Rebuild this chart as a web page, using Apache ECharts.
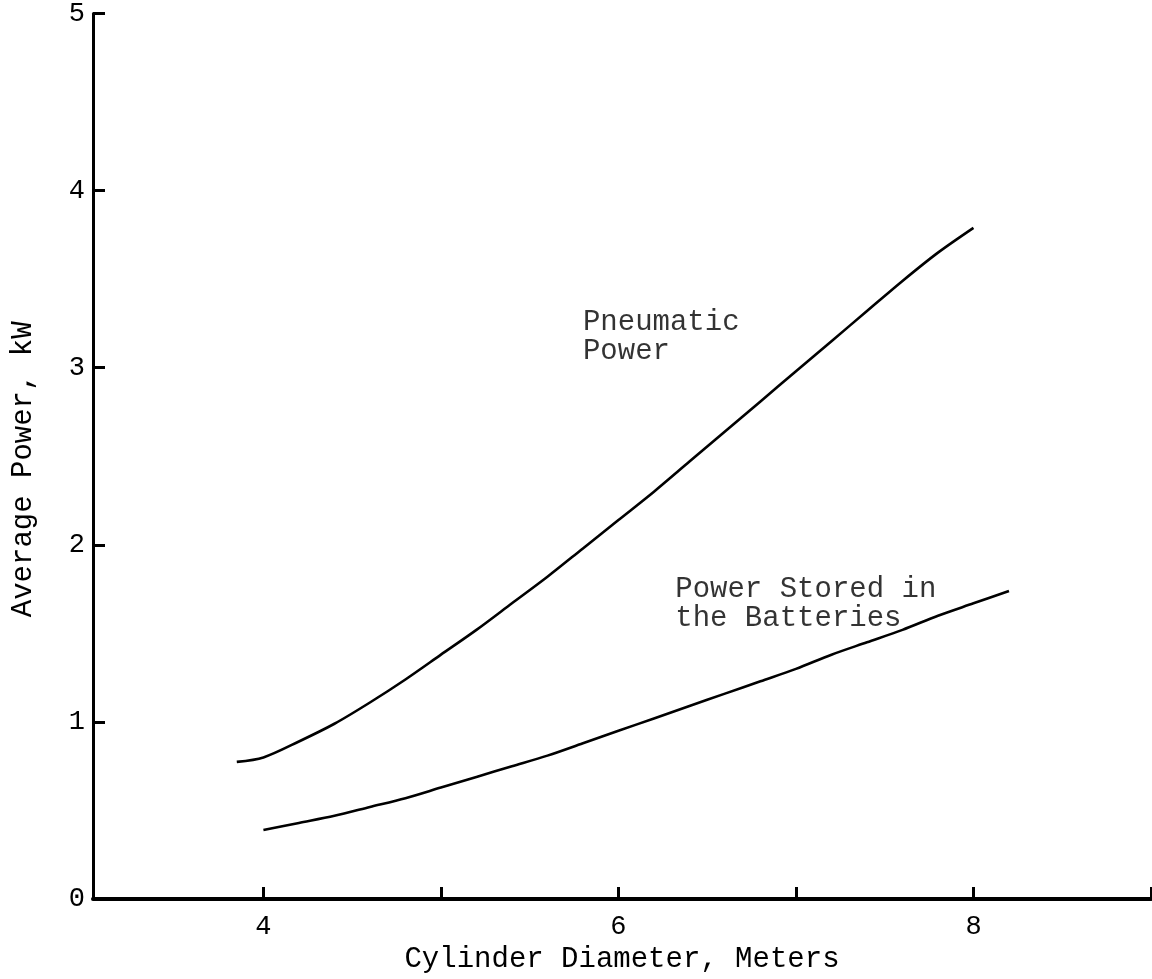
<!DOCTYPE html>
<html>
<head>
<meta charset="utf-8">
<script src="https://cdn.jsdelivr.net/npm/echarts@6/dist/echarts.min.js"></script>
<style>
html,body{margin:0;padding:0;background:#fff;}
#chart{width:1152px;height:979px;}
</style>
</head>
<body>
<div id="chart"></div>
<script>
// ---- data ----
const xTickValues = [4, 5, 6, 7, 8, 9];
const xLabelValues = [4, 6, 8];
const yTickValues = [0, 1, 2, 3, 4, 5];
const pneumaticX = [3.85, 4.0, 4.2, 4.4, 4.6, 4.8, 5.0, 5.2, 5.4, 5.6, 5.8, 6.0, 6.2, 6.4, 6.6, 6.8, 7.0, 7.2, 7.4, 7.6, 7.8, 8.0];
const pneumaticY = [0.775, 0.80, 0.89, 0.99, 1.11, 1.24, 1.38, 1.52, 1.67, 1.82, 1.98, 2.14, 2.30, 2.47, 2.64, 2.81, 2.98, 3.15, 3.32, 3.49, 3.65, 3.79];
const batteryX = [4.0, 4.2, 4.4, 4.6, 4.8, 5.0, 5.2, 5.4, 5.6, 5.8, 6.0, 6.2, 6.4, 6.6, 6.8, 7.0, 7.2, 7.4, 7.6, 7.8, 8.0, 8.2];
const batteryY = [0.39, 0.43, 0.47, 0.52, 0.57, 0.63, 0.69, 0.75, 0.81, 0.88, 0.95, 1.02, 1.09, 1.16, 1.23, 1.30, 1.38, 1.45, 1.52, 1.60, 1.67, 1.74];
const annotations = [
  { x: 5.80, y: 3.34, text: 'Pneumatic\nPower' },
  { x: 6.32, y: 1.83, text: 'Power Stored in\nthe Batteries' }
];

const FONT = '"Liberation Mono", "DejaVu Sans Mono", monospace';
const zip = (xs, ys) => xs.map((x, i) => [x, ys[i]]);

const chart = echarts.init(document.getElementById('chart'));
chart.setOption({
  backgroundColor: '#fff',
  animation: false,
  grid: { left: 93, right: 1, top: 12, bottom: 76 },
  xAxis: {
    type: 'value', min: 3.04, max: 9,
    name: 'Cylinder Diameter, Meters',
    nameLocation: 'middle', nameGap: 45,
    nameTextStyle: { fontFamily: FONT, fontSize: 29, color: '#000' },
    axisLine: { lineStyle: { color: '#000', width: 4 } },
    axisTick: { inside: true, length: 12, customValues: xTickValues, lineStyle: { color: '#000', width: 3 } },
    axisLabel: {
      margin: 14, fontFamily: FONT, fontSize: 27, color: '#000',
      customValues: xLabelValues
    },
    splitLine: { show: false }
  },
  yAxis: {
    type: 'value', min: 0, max: 5, interval: 1,
    name: 'Average Power, kW',
    nameLocation: 'middle', nameGap: 55, nameRotate: 90,
    nameTextStyle: { fontFamily: FONT, fontSize: 29, color: '#000', padding: [0, 26, 0, 0] },
    axisLine: { lineStyle: { color: '#000', width: 3 } },
    axisTick: { inside: true, length: 12, customValues: yTickValues, lineStyle: { color: '#000', width: 3 } },
    axisLabel: { margin: 8, fontFamily: FONT, fontSize: 27, color: '#000' },
    splitLine: { show: false }
  },
  series: [
    {
      name: 'Pneumatic Power', type: 'line', smooth: 0.3, showSymbol: false,
      data: zip(pneumaticX, pneumaticY),
      lineStyle: { color: '#000', width: 2.6 }
    },
    {
      name: 'Power Stored in the Batteries', type: 'line', smooth: 0.3, showSymbol: false,
      data: zip(batteryX, batteryY),
      lineStyle: { color: '#000', width: 2.6 }
    },
    {
      name: 'annotations', type: 'scatter', symbolSize: 0, silent: true,
      data: annotations.map(a => ({ value: [a.x, a.y], text: a.text })),
      label: {
        show: true, position: 'inside', align: 'left', verticalAlign: 'top',
        fontFamily: FONT, fontSize: 29, lineHeight: 29, color: '#000',
        formatter: p => p.data.text
      }
    }
  ]
});
</script>
</body>
</html>
